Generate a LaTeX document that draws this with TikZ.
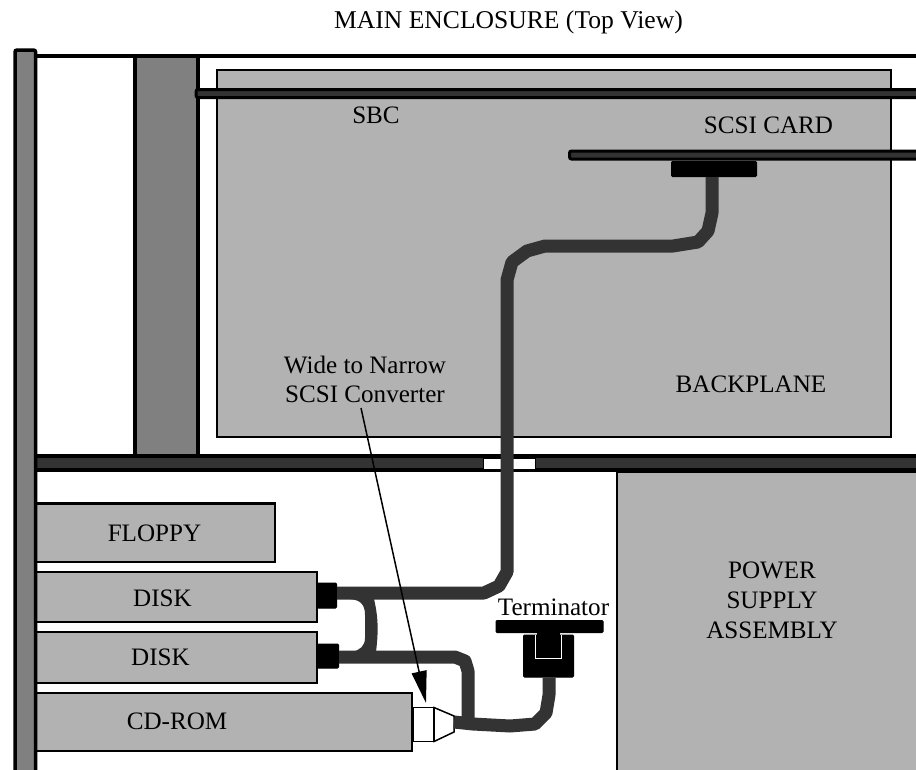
\documentclass[tikz,border=0pt]{standalone}
\usepackage{fontspec}
\setmainfont{Liberation Serif}
\usetikzlibrary{arrows.meta}
\definecolor{midgray}{HTML}{808080}
\definecolor{lightgray}{HTML}{B2B2B2}
\definecolor{cablegray}{HTML}{333333}
\tikzset{
  panel/.style={draw=black,line width=2.5pt,fill=lightgray},
  post/.style={draw=black,line width=3.5pt,fill=midgray},
  card/.style={draw=black,line width=3pt,fill=cablegray,rounded corners=2pt},
  plug/.style={draw=black,fill=black,line width=1pt,rounded corners=1pt},
  cable/.style={draw=cablegray,line width=13pt,line join=round},
  hull/.style={draw=black,line width=1.5pt,fill=white},
  label/.style={font=\fontsize{25.1}{30}\selectfont,inner sep=0pt,align=center,text=black},
}
\begin{document}
\begin{tikzpicture}[x=1pt,y=-1pt]
\clip (0,0) rectangle (916,769);
\fill[white] (0,0) rectangle (916,769);
% enclosure
\draw[black,line width=3.5pt] (35,56) -- (920,56);
\draw[post] (135,56) rectangle (198,458);
\draw[panel] (217,70) rectangle (891,437);
\draw[card] (196,89.5) rectangle (925,97.5);
\draw[card] (569.5,151) rectangle (925,159);
\node[plug,minimum width=85pt,minimum height=15pt,inner sep=0pt] (scsiplug) at (714,169) {};
% divider
\draw[draw=black,line width=3.5pt,fill=cablegray] (30,456) rectangle (925,470);
\draw[draw=black,line width=1pt,fill=white] (483.5,458) rectangle (535,469);
% drives
\draw[panel] (617,472) rectangle (925,780);
\draw[panel] (30,503.5) rectangle (275,562);
\draw[panel] (30,572) rectangle (317,622);
\draw[panel] (30,632) rectangle (317,683);
\draw[panel] (30,693) rectangle (412,751);
\draw[post,rounded corners=2pt] (15,50) rectangle (35.5,780);
\node[plug,minimum width=19pt,minimum height=25pt,inner sep=0pt] (disk1plug) at (327,595.5) {};
\node[plug,minimum width=21pt,minimum height=24pt,inner sep=0pt] (disk2plug) at (328,656) {};
% converter
\draw[hull] (413,707.5) rectangle (434,741.5);
\draw[hull] (434,707.5) -- (454,716) -- (454,732) -- (434,741.5) -- cycle;
\coordinate (convout) at (454,722);
% terminator
\node[plug,minimum width=107pt,minimum height=12pt,inner sep=0pt] (termbar) at (549.5,626.5) {};
\node[plug,minimum width=50pt,minimum height=42pt,inner sep=0pt] (termbody) at (548.5,656) {};
\fill[black] (537,630) rectangle (560,640);
\draw[white,line width=1.2pt] (535.5,635) -- (535.5,658.5) -- (561.5,658.5) -- (561.5,635);
% cables
\draw[cable] (scsiplug.south) ++(-2,0) -- (712,213) -- (708,231) -- (698,242) -- (673,246)
  -- (545,246) -- (527,251) -- (512,262) -- (507,280) -- (507,572) -- (499,586) -- (484,593)
  -- (disk1plug.east |- 0,593);
\fill[cablegray] (350,599) .. controls (360,600) and (365,604) .. (365,615) -- (365,638)
  .. controls (365,646) and (360,650) .. (352,652) -- (376,652)
  .. controls (378,635) and (379,620) .. (374,599) -- cycle;
\draw[cable] (disk2plug.east |- 0,657) -- (455,657) -- (465,661) -- (468,671) -- (468,722);
\draw[cable] (convout) -- (473,724) -- (510,726) -- (535,724) -- (546,713) -- (549,695) -- (termbody.south -| 549,0);
% labels
\node[label,font=\fontsize{25.6}{30}\selectfont,anchor=base] (title) at (508.5,28) {MAIN ENCLOSURE (Top View)};
\node[label] (sbc) at (376,115) {SBC};
\node[label] (scsicard) at (768.5,125.5) {SCSI CARD};
\node[label,font=\fontsize{25.1}{29}\selectfont] (conv) at (365,379) {Wide to Narrow\\SCSI Converter};
\node[label] (bp) at (751,384) {BACKPLANE};
\node[label] (floppy) at (154.5,533) {FLOPPY};
\node[label] (disk1) at (162.5,598) {DISK};
\node[label] (disk2) at (160.5,657) {DISK};
\node[label] (cd) at (177,721) {CD-ROM};
\node[label] (psu) at (772,600) {POWER\\SUPPLY\\ASSEMBLY};
\node[label] (term) at (553.5,607) {Terminator};
\coordinate (arrowstart) at (361,408);
\coordinate (arrowtip) at (426,703);
\draw[-{Triangle[length=32pt,width=15pt]},black,line width=1.5pt] (arrowstart) -- (arrowtip);
\end{tikzpicture}
\end{document}
